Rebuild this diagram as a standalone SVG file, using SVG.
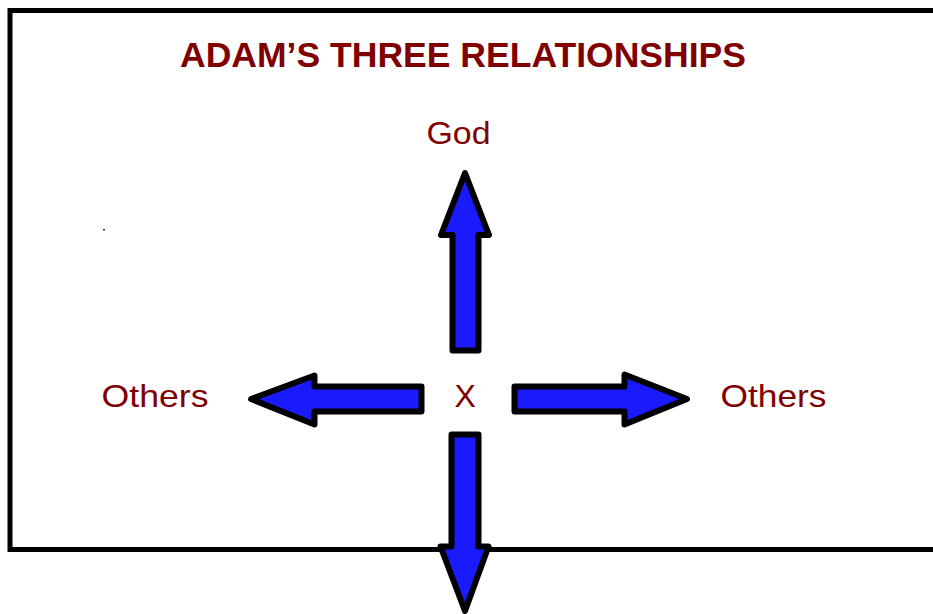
<svg xmlns="http://www.w3.org/2000/svg" width="933" height="614" viewBox="0 0 933 614">
<style>
.lbl{font-family:"Liberation Sans",Arial,sans-serif;fill:#800000;font-size:32px}
.ttl{font-family:"Liberation Sans",Arial,sans-serif;fill:#800000;font-size:35px;font-weight:bold}
.arr{fill:#1a1aff;stroke:#000;stroke-width:6;stroke-linejoin:round}
</style>
<rect width="933" height="614" fill="#fff"/>
<g id="frame"><rect x="10" y="10.5" width="940" height="539" fill="none" stroke="#000" stroke-width="5"/></g>
<rect x="103" y="229" width="2" height="1.5" fill="#333"/>
<g id="title"><text class="ttl" x="180" y="67" textLength="566" lengthAdjust="spacingAndGlyphs">ADAM’S THREE RELATIONSHIPS</text></g>
<g id="connectors">
<path class="arr" d="M465,173 L489,235 L478.5,235 L478.5,350.5 L452.5,350.5 L452.5,235 L441,235 Z"/>
<path class="arr" d="M251,399 L314.5,375.5 L314.5,386.5 L421.5,386.5 L421.5,411.5 L314.5,411.5 L314.5,424.5 Z"/>
<path class="arr" d="M687,399 L624.5,374.5 L624.5,386.5 L514.5,386.5 L514.5,411.5 L624.5,411.5 L624.5,424.5 Z"/>
<path class="arr" d="M465,611 L488.5,546.5 L478.5,546.5 L478.5,434.5 L451.5,434.5 L451.5,546.5 L440.5,546.5 Z"/>
</g>
<g id="god"><text class="lbl" x="426.5" y="144" textLength="64" lengthAdjust="spacingAndGlyphs">God</text></g>
<g id="others-left"><text class="lbl" x="101.5" y="407" textLength="107" lengthAdjust="spacingAndGlyphs">Others</text></g>
<g id="x"><text class="lbl" x="454.5" y="407">X</text></g>
<g id="others-right"><text class="lbl" x="720.5" y="407" textLength="106" lengthAdjust="spacingAndGlyphs">Others</text></g>
</svg>
